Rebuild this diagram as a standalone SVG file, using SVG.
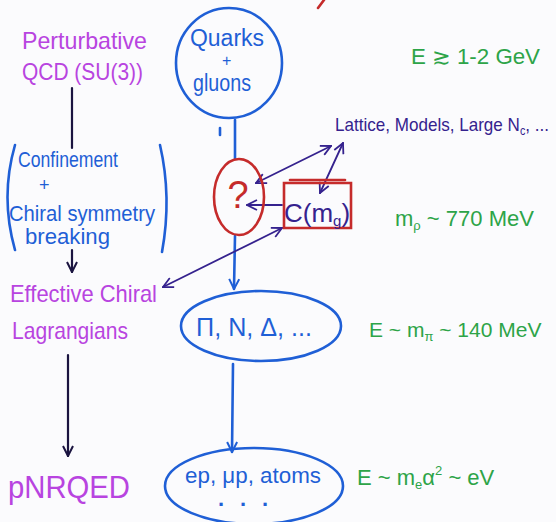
<svg xmlns="http://www.w3.org/2000/svg" width="556" height="522" viewBox="0 0 556 522">
<defs>
<style>
text{font-family:"Liberation Sans","DejaVu Sans",sans-serif}
.mag{fill:#b844e0}
.blu{fill:#1f5fd6}
.grn{fill:#2da448}
.ind{fill:#35228e}
.red{fill:#c52b2b}
.sb{fill:none;stroke:#1f5fd6;stroke-width:2.6;stroke-linecap:round}
.sr{fill:none;stroke:#c52b2b;stroke-width:2.6;stroke-linecap:round}
.sk{fill:none;stroke:#1b1440;stroke-width:2.2;stroke-linecap:round}
.si{fill:none;stroke:#35228e;stroke-width:1.8;stroke-linecap:round}
</style>
<marker id="ab" viewBox="0 0 12 12" refX="11" refY="6" markerWidth="12" markerHeight="12" markerUnits="userSpaceOnUse" orient="auto-start-reverse">
<path d="M1,1 L11,6 L1,11" fill="none" stroke="#1f5fd6" stroke-width="2"/>
</marker>
<marker id="ak" viewBox="0 0 12 12" refX="11" refY="6" markerWidth="12" markerHeight="12" markerUnits="userSpaceOnUse" orient="auto-start-reverse">
<path d="M1,1 L11,6 L1,11" fill="none" stroke="#1b1440" stroke-width="2"/>
</marker>
<marker id="ai" viewBox="0 0 12 12" refX="11" refY="6" markerWidth="12" markerHeight="12" markerUnits="userSpaceOnUse" orient="auto-start-reverse">
<path d="M1,1 L11,6 L1,11" fill="none" stroke="#35228e" stroke-width="1.8"/>
</marker>
</defs>
<rect width="556" height="522" fill="#fbfbfd"/>
<path class="sr" d="M318,8 L324,0"/>

<g id="connectors">
<path class="sb" d="M235,120 L235,158"/>
<path class="sb" d="M220,128 L220,135"/>
<path class="sb" d="M235,236 L234,289" marker-end="url(#ab)"/>
<path class="sb" d="M233,364 L232,452" marker-end="url(#ab)"/>
<path class="sk" d="M72,88 L72,148"/>
<path class="sk" d="M72,250 L72,272" marker-end="url(#ak)"/>
<path class="sk" d="M68,355 L68,456" marker-end="url(#ak)"/>
<path class="si" d="M256,183 L331,146" marker-start="url(#ai)" marker-end="url(#ai)"/>
<path class="si" d="M343,143 L320,193" marker-start="url(#ai)" marker-end="url(#ai)"/>
<path class="si" d="M282,205 L247,205" marker-end="url(#ai)"/>
<path class="si" d="M282,228 L163,287" marker-start="url(#ai)" marker-end="url(#ai)"/>
</g>

<g id="quarks">
<ellipse class="sb" cx="229" cy="63" rx="53" ry="55"/>
<text class="blu" x="190" y="46" font-size="23" textLength="74" lengthAdjust="spacingAndGlyphs">Quarks</text>
<text class="blu" x="222" y="66" font-size="16">+</text>
<text class="blu" x="193" y="91" font-size="23" textLength="58" lengthAdjust="spacingAndGlyphs">gluons</text>
</g>

<g id="unknown">
<ellipse class="sr" cx="239" cy="197" rx="25" ry="38"/>
<text class="red" x="238" y="208" font-size="38" text-anchor="middle">?</text>
</g>

<g id="cmg">
<path class="sr" d="M284,183 L284,228 L351,228 L351,183 Z"/>
<path class="sr" d="M290,180 L345,180"/>
<text class="ind" x="284" y="222" font-size="26">C(m<tspan font-size="15" dy="4">g</tspan><tspan dy="-4">)</tspan></text>
</g>

<g id="lattice">
<text class="ind" x="335" y="131" font-size="19" textLength="214" lengthAdjust="spacingAndGlyphs">Lattice, Models, Large N<tspan font-size="12" dy="4">c</tspan><tspan dy="-4">, ...</tspan></text>
</g>

<g id="hadrons">
<ellipse class="sb" cx="261" cy="326" rx="80" ry="35"/>
<text class="blu" x="196" y="336" font-size="26" textLength="116" lengthAdjust="spacingAndGlyphs">Π, N, Δ, ...</text>
</g>

<g id="atoms">
<ellipse class="sb" cx="254" cy="486" rx="89" ry="38"/>
<text class="blu" x="185" y="483" font-size="22" textLength="136" lengthAdjust="spacingAndGlyphs">ep, μp, atoms</text>
<text class="blu" x="218" y="506" font-size="22" font-weight="bold" textLength="50" lengthAdjust="spacing">. . .</text>
</g>

<g id="pqcd">
<text class="mag" x="22" y="49" font-size="24" textLength="125" lengthAdjust="spacingAndGlyphs">Perturbative</text>
<text class="mag" x="22" y="80" font-size="24" textLength="121" lengthAdjust="spacingAndGlyphs">QCD (SU(3))</text>
</g>

<g id="confinement">
<path class="sb" d="M15,145 Q0,197 15,250"/>
<path class="sb" d="M160,145 Q172,197 162,252"/>
<text class="blu" x="18" y="167" font-size="22" textLength="100" lengthAdjust="spacingAndGlyphs">Confinement</text>
<text class="blu" x="39" y="191" font-size="18">+</text>
<text class="blu" x="9" y="221" font-size="22" textLength="146" lengthAdjust="spacingAndGlyphs">Chiral symmetry</text>
<text class="blu" x="25" y="244" font-size="22" textLength="85" lengthAdjust="spacingAndGlyphs">breaking</text>
</g>

<g id="effective">
<text class="mag" x="10" y="302" font-size="24" textLength="147" lengthAdjust="spacingAndGlyphs">Effective Chiral</text>
<text class="mag" x="12" y="339" font-size="24" textLength="116" lengthAdjust="spacingAndGlyphs">Lagrangians</text>
</g>

<g id="pnrqed">
<text class="mag" x="8" y="498" font-size="32" textLength="122" lengthAdjust="spacingAndGlyphs">pNRQED</text>
</g>

<g id="scales">
<text class="grn" x="411" y="64" font-size="22" textLength="129" lengthAdjust="spacingAndGlyphs">E ≳ 1-2 GeV</text>
<text class="grn" x="395" y="226" font-size="22">m<tspan font-size="13" dy="4">ρ</tspan><tspan dy="-4"> ~ 770 MeV</tspan></text>
<text class="grn" x="369" y="337" font-size="21">E ~ m<tspan font-size="13" dy="4">π</tspan><tspan dy="-4"> ~ 140 MeV</tspan></text>
<text class="grn" x="357" y="485" font-size="22">E ~ m<tspan font-size="13" dy="4">e</tspan><tspan dy="-4">α</tspan><tspan font-size="13" dy="-10">2</tspan><tspan dy="10"> ~ eV</tspan></text>
</g>
</svg>
